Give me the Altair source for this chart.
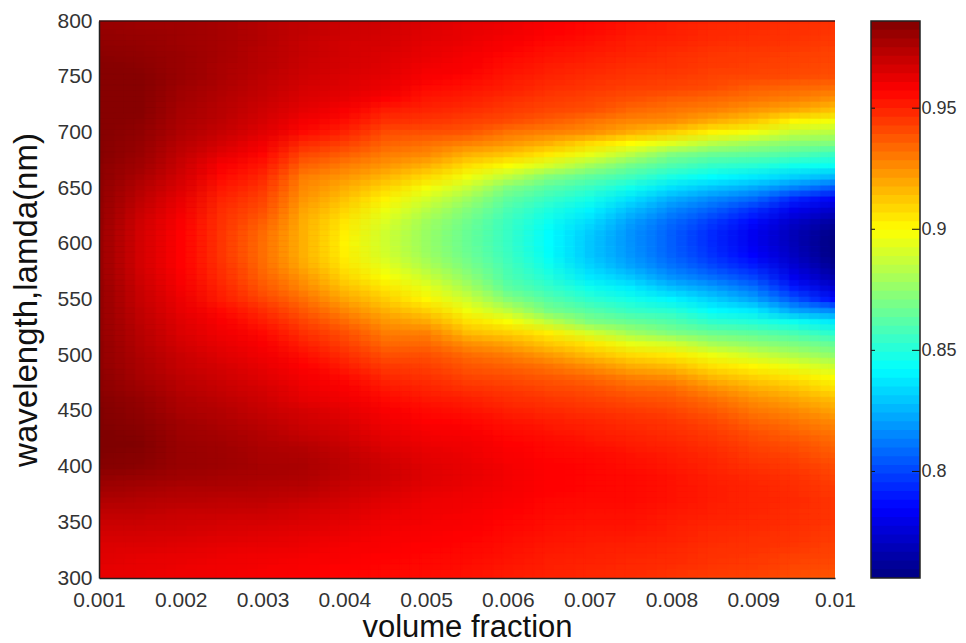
import altair as alt
import pandas as pd

# wavelength rows, 800 nm down to 300 nm in 10 nm steps
wavelengths = list(range(800, 290, -10))
fractions = [0.001, 0.0015, 0.002, 0.0025, 0.003, 0.0035, 0.004, 0.0045, 0.005, 0.0055,
             0.006, 0.0065, 0.007, 0.0075, 0.008, 0.0085, 0.009, 0.0095, 0.01]

# values, thousandths, one list per volume fraction
c0010 = [980,981,982,983,984,984,984,984,984,984,984, 984,984,983,983,982,982,981,981,980,980, 980,980,980,981,981,981,981,981,982,982, 982,983,983,984,985,985,986,986,985,984, 981,978,975,972,969,967,965,964,963,962]
c0015 = [979,980,981,982,983,984,984,984,984,983,982, 981,980,978,976,974,972,970,968,967,967, 967,967,968,969,970,971,972,973,974,975, 976,977,979,981,982,983,984,985,984,983, 980,977,974,972,969,967,965,963,962,961]
c0020 = [978,979,979,980,980,980,979,978,977,976,975, 973,971,969,967,965,962,960,958,957,957, 957,957,958,959,961,962,964,965,967,969, 970,972,973,975,976,978,979,980,980,980, 978,975,973,970,968,966,964,962,961,960]
c0025 = [977,977,977,977,976,976,975,974,973,972,970, 967,963,958,955,952,949,947,946,945,945, 945,946,947,949,951,955,958,960,962,964, 966,968,970,972,974,975,977,978,979,979, 977,975,972,970,967,965,963,961,960,959]
c0030 = [974,974,974,973,973,972,971,970,968,966,964, 960,956,952,948,945,942,939,936,933,932, 932,933,935,938,942,947,951,955,958,960, 962,964,966,968,970,972,974,975,976,977, 976,974,972,969,966,964,962,960,959,958]
c0035 = [971,971,970,970,969,968,966,965,963,959,955, 948,941,935,929,926,923,920,918,917,917, 917,919,923,927,932,937,942,946,950,954, 957,959,961,963,966,968,970,973,975,976, 975,973,970,967,965,963,961,959,958,957]
c0040 = [969,968,967,967,966,965,964,962,958,954,949, 943,936,929,923,918,913,909,905,903,902, 903,905,909,914,920,927,933,939,943,947, 951,955,958,960,963,965,967,969,971,972, 971,969,967,965,963,961,959,958,957,956]
c0045 = [968,967,966,965,964,963,961,957,951,946,940, 935,929,923,916,909,902,896,892,889,889, 890,894,899,905,911,917,923,929,934,939, 944,948,952,955,958,960,962,964,966,968, 968,966,964,962,960,959,958,957,956,955]
c0050 = [965,964,963,962,960,958,955,952,949,945,939, 932,926,917,908,898,890,884,879,877,877, 878,882,888,895,901,910,919,928,934,939, 943,946,949,952,955,957,959,961,963,964, 964,963,961,960,959,958,957,956,955,954]
c0055 = [963,962,961,959,958,956,953,950,947,943,938, 928,917,907,897,887,878,872,868,866,866, 867,870,875,881,889,897,906,915,925,933, 938,942,946,950,953,956,958,960,961,962, 962,961,960,959,958,957,956,955,954,953]
c0060 = [961,960,958,956,954,952,950,947,944,940,931, 923,912,899,885,871,864,859,856,855,855, 856,858,860,864,873,885,899,910,920,929, 935,940,944,947,950,953,955,957,958,959, 959,959,958,957,956,955,954,953,952,951]
c0065 = [958,957,955,953,951,949,947,944,941,936,928, 917,904,890,872,862,855,849,845,842,842, 843,846,850,855,862,869,885,903,912,922, 931,937,941,945,948,951,953,955,956,957, 957,957,956,955,954,953,952,951,950,949]
c0070 = [956,955,953,951,949,947,945,942,939,931,925, 908,895,879,864,855,847,840,835,831,830, 830,833,838,846,853,862,871,890,905,915, 925,934,939,943,946,949,951,953,955,956, 956,956,955,954,953,952,951,950,949,948]
c0075 = [953,952,950,949,947,945,943,939,934,927,918, 900,884,868,857,846,836,827,821,818,818, 819,822,830,839,847,855,866,879,895,908, 918,928,935,940,944,947,949,951,953,954, 955,955,955,954,953,952,950,949,948,947]
c0080 = [951,950,949,947,946,944,942,936,931,925,911, 893,871,860,848,836,824,815,809,806,806, 807,811,818,829,841,851,861,871,890,904, 915,925,933,938,942,945,947,949,951,952, 953,953,953,952,951,950,949,948,947,945]
c0085 = [949,948,947,945,944,942,940,934,928,918,902, 884,866,854,842,829,816,806,798,794,794, 796,801,810,821,832,842,853,866,880,896, 906,916,925,932,937,941,944,946,948,949, 950,951,951,950,949,948,947,946,945,943]
c0090 = [948,947,946,944,943,941,936,931,923,912,897, 878,864,851,838,823,808,795,787,782,782, 785,791,800,811,822,838,850,863,875,889, 901,910,918,925,930,935,939,942,944,946, 948,949,949,949,948,947,946,945,944,942]
c0095 = [947,946,945,943,942,940,934,928,919,901,887, 873,860,846,832,814,793,781,773,769,769, 771,775,781,791,804,822,845,858,870,882, 895,905,913,920,926,931,935,939,942,944, 946,947,948,947,947,946,945,943,941,939]
c0100 = [946,945,944,942,941,939,932,924,913,897,884, 871,855,844,826,804,783,772,763,758,756, 757,760,766,775,787,815,838,851,865,875, 888,899,906,914,920,926,930,934,937,940, 942,944,945,945,945,944,943,942,940,937]
columns = [c0010,c0015,c0020,c0025,c0030,c0035,c0040,c0045,c0050,c0055,
           c0060,c0065,c0070,c0075,c0080,c0085,c0090,c0095,c0100]

# colour-bar band edges (64 bands) and its tick values
bar_edges = [.7560,.7596,.7632,.7668,.7704,.7740,.7776,.7812,.7848,.7883,.7919,.7955,.7991,.8027,.8063,.8099,
             .8135,.8171,.8207,.8243,.8279,.8315,.8351,.8387,.8423,.8458,.8494,.8530,.8566,.8602,.8638,.8674,
             .8710,.8746,.8782,.8818,.8854,.8890,.8926,.8962,.8998,.9033,.9069,.9105,.9141,.9177,.9213,.9249,
             .9285,.9321,.9357,.9393,.9429,.9465,.9501,.9537,.9573,.9608,.9644,.9680,.9716,.9752,.9788,.9824,.9860]
bar_ticks = [0.8, 0.85, 0.9, 0.95]
x_ticks = [0.001, 0.002, 0.003, 0.004, 0.005, 0.006, 0.007, 0.008, 0.009, 0.01]
y_ticks = [300, 350, 400, 450, 500, 550, 600, 650, 700, 750, 800]

jet = ["#000080", "#0000ff", "#0080ff", "#00ffff", "#80ff80", "#ffff00", "#ff8000", "#ff0000", "#800000"]
color_scale = alt.Scale(domain=[0.756, 0.986], range=jet, interpolate="rgb")
FONT = "Liberation Sans"

rows = []
for f, col in zip(fractions, columns):
    for w, v in zip(wavelengths, col):
        rows.append({"x0": f - 0.00026, "x1": f + 0.00026, "y0": w - 5.3, "y1": w + 5.3, "v": v / 1000})
grid = pd.DataFrame(rows)

x_scale = alt.Scale(domain=[0.001, 0.01], nice=False, zero=False)
y_scale = alt.Scale(domain=[300, 800], nice=False, zero=False)
x_axis = alt.Axis(
    values=x_ticks, format=".3~f", title="volume fraction", grid=False, ticks=False, labelFlush=False,
    domainColor="#222222", domainWidth=1.5, labelFont=FONT, labelFontSize=21, labelColor="#333333",
    labelPadding=11, titleFont=FONT, titleFontSize=31, titleFontWeight="normal", titleColor="#111111",
    titlePadding=2, zindex=1)
y_axis = alt.Axis(
    values=y_ticks, title="wavelength,lamda(nm)", grid=False, ticks=False, labelFlush=False,
    domainColor="#222222", domainWidth=1.5, labelFont=FONT, labelFontSize=21, labelColor="#333333",
    labelPadding=7, titleFont=FONT, titleFontSize=33, titleFontWeight="normal", titleColor="#111111",
    titlePadding=13, zindex=1)

# the grid is drawn in overlaid, slightly shifted translucent passes, which averages to a smooth field
passes = [(dx, dy) for dx in (-15, -5, 5, 15) for dy in (-2.8, 2.8)]
layers = []
for i, (dx, dy) in enumerate(passes):
    layers.append(alt.Chart(grid).mark_rect(
        clip=True, strokeWidth=0, opacity=1 / (i + 1),
        xOffset=dx, x2Offset=dx, yOffset=dy, y2Offset=dy).encode(
        x=alt.X("x0:Q", scale=x_scale, axis=x_axis),
        x2="x1:Q",
        y=alt.Y("y0:Q", scale=y_scale, axis=y_axis),
        y2="y1:Q",
        color=alt.Color("v:Q", scale=color_scale, legend=None),
    ))
top_line = alt.Chart(pd.DataFrame({"k": [0]})).mark_rule(color="#3a1010", strokeWidth=1.5).encode(
    x=alt.value(0), x2=alt.value(736), y=alt.value(0))
main = alt.layer(*layers, top_line).properties(width=736, height=557)

bands = pd.DataFrame({"lo": bar_edges[:-1], "hi": bar_edges[1:]})
bands["mid"] = (bands["lo"] + bands["hi"]) / 2
bands["hi"] = bands["hi"] + 0.0004
bar_y = alt.Scale(domain=[0.756, 0.986], nice=False, zero=False)
bar_rect = alt.Chart(bands).mark_rect(strokeWidth=0, clip=True).encode(
    y=alt.Y("lo:Q", scale=bar_y, axis=alt.Axis(
        orient="right", values=bar_ticks, format=".2~f", title=None, grid=False, ticks=False, domain=False,
        labelFont=FONT, labelFontSize=18, labelColor="#333333", labelPadding=1, labelFlush=False)),
    y2="hi:Q",
    color=alt.Color("mid:Q", scale=color_scale, legend=None),
)
tick_df = pd.DataFrame({"t": bar_ticks})
tick_l = alt.Chart(tick_df).mark_rule(color="#111111", strokeWidth=1).encode(
    y=alt.Y("t:Q", scale=bar_y), x=alt.value(0), x2=alt.value(4))
tick_r = alt.Chart(tick_df).mark_rule(color="#111111", strokeWidth=1).encode(
    y=alt.Y("t:Q", scale=bar_y), x=alt.value(41), x2=alt.value(49))
frame = alt.Chart(pd.DataFrame({"k": [0]})).mark_rect(fillOpacity=0, stroke="#222222", strokeWidth=1.5).encode(
    x=alt.value(0), x2=alt.value(49), y=alt.value(0), y2=alt.value(557))
cbar = alt.layer(bar_rect, tick_l, tick_r, frame).properties(width=49, height=557)

chart = alt.hconcat(main, cbar, spacing=36, bounds="flush").configure_view(stroke=None).properties(
    padding={"left": 2, "top": 2, "right": 0, "bottom": 0}, background="white")
chart.save("out.html", embed_options={"renderer": "svg", "actions": False})
